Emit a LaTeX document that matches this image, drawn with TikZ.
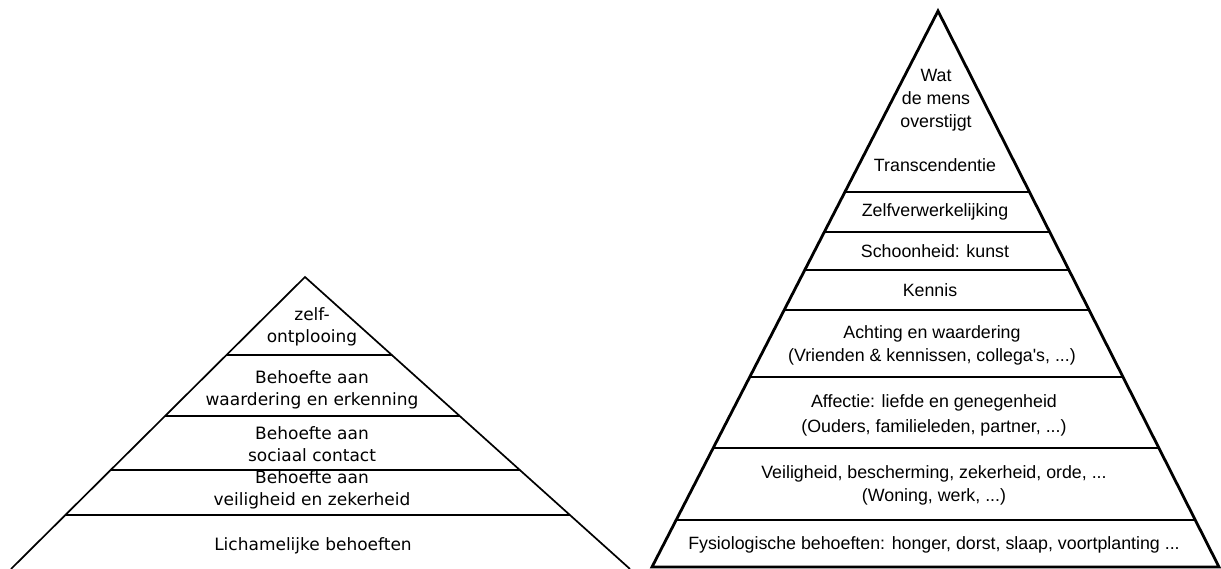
\documentclass[tikz,border=0pt]{standalone}
\usepackage{fontspec}
\newfontfamily\lfont{DejaVu Sans}
\newfontfamily\rfont{Liberation Sans}
\usetikzlibrary{calc}
\tikzset{
  ltext/.style={font=\lfont\fontsize{17}{22}\selectfont, align=center, inner sep=0pt},
  rtext/.style={font=\rfont\fontsize{17.8}{23}\selectfont, align=center, inner sep=0pt},
  lline/.style={line width=1.7pt, line join=miter},
  rline/.style={line width=2.8pt, line join=miter},
}
\begin{document}
\begin{tikzpicture}[x=1pt,y=-1pt]
\useasboundingbox (0,0) rectangle (1221,569);
% left pyramid
\coordinate (lA) at (305,277);
\coordinate (lL) at (11,569);
\coordinate (lR) at (630,569);
\draw[lline] (lL) -- (lA) -- (lR);
\foreach \t in {0.2671,0.4760,0.6610,0.8151}{
  \draw[lline] ($(lA)!\t!(lL)$) -- ($(lA)!\t!(lR)$);
}
\node[ltext] (l1) at (312,327) {zelf-\\ontplooing};
\node[ltext] (l2) at (312,390) {Behoefte aan\\waardering en erkenning};
\node[ltext] (l3) at (312,444) {Behoefte aan\\sociaal contact};
\node[ltext] (l4) at (312,490) {Behoefte aan\\veiligheid en zekerheid};
\node[ltext] (l5) at (313,546) {Lichamelijke behoeften};
% right pyramid
\coordinate (rA) at (938,11);
\coordinate (rL) at (652,567);
\coordinate (rR) at (1219,567);
\draw[rline] (rL) -- (rA) -- (rR) -- cycle;
\foreach \t in {0.3255,0.3975,0.4658,0.5378,0.6583,0.7860,0.9155}{
  \draw[rline] ($(rA)!\t!(rL)$) -- ($(rA)!\t!(rR)$);
}
\node[rtext] (r1) at (936,100) {Wat\\de mens\\overstijgt};
\node[rtext] (r2) at (935,165) {Transcendentie};
\node[rtext] (r3) at (935,212) {Zelfverwerkelijking};
\node[rtext] (r4) at (935,251) {Schoonheid: kunst};
\node[rtext] (r5) at (930,290) {Kennis};
\node[rtext] (r6) at (932,345) {Achting en waardering\\(Vrienden \& kennissen, collega's, ...)};
\node[rtext] (r7) at (934,415) {Affectie: liefde en genegenheid\\[2pt](Ouders, familieleden, partner, ...)};
\node[rtext] (r8) at (934,485) {Veiligheid, bescherming, zekerheid, orde, ...\\(Woning, werk, ...)};
\node[rtext] (r9) at (934,545) {Fysiologische behoeften: honger, dorst, slaap, voortplanting ...};
\end{tikzpicture}
\end{document}
